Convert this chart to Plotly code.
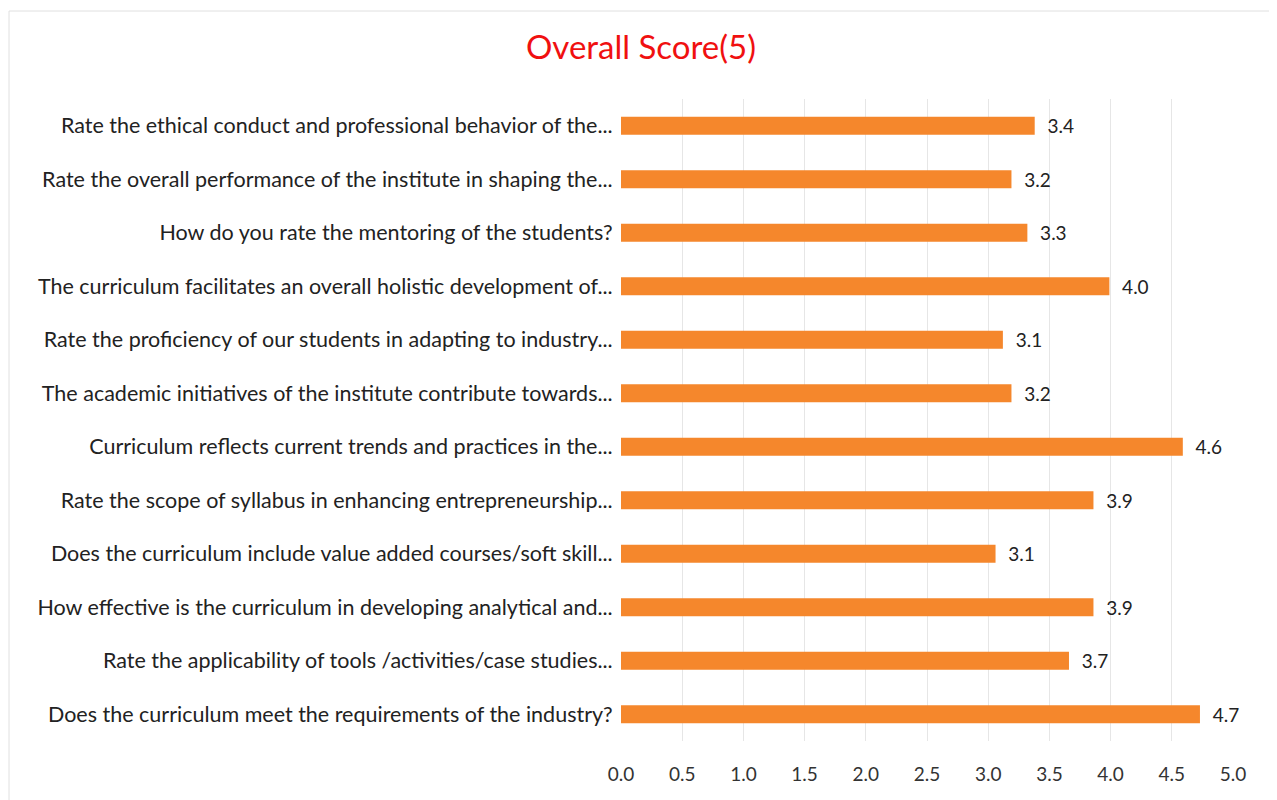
import plotly.graph_objects as go

categories = [
    "Rate the ethical conduct and professional behavior of the...",
    "Rate the overall performance of the institute in shaping the...",
    "How do you rate the mentoring of the students?",
    "The curriculum facilitates an overall holistic development of...",
    "Rate the proficiency of our students in adapting to industry...",
    "The academic initiatives of the institute contribute towards...",
    "Curriculum reflects current trends and practices in the...",
    "Rate the scope of syllabus in enhancing entrepreneurship...",
    "Does the curriculum include value added courses/soft skill...",
    "How effective is the curriculum in developing analytical and...",
    "Rate the applicability of tools /activities/case studies...",
    "Does the curriculum meet the requirements of the industry?",
]
scores = [3.38, 3.19, 3.32, 3.99, 3.12, 3.19, 4.59, 3.86, 3.06, 3.86, 3.66, 4.73]
tick_vals = [0, 0.5, 1, 1.5, 2, 2.5, 3, 3.5, 4, 4.5, 5]
tick_text = ["0.0", "0.5", "1.0", "1.5", "2.0", "2.5", "3.0", "3.5", "4.0", "4.5", "5.0"]

font_family = "Lato, Open Sans, sans-serif"

fig = go.Figure(go.Bar(
    x=scores,
    y=categories,
    orientation="h",
    marker=dict(color="#F5872C", line=dict(width=0)),
    width=0.34,
    text=["\u00a0\u00a0" + f"{v:.1f}" for v in scores],
    texttemplate="%{text}",
    textposition="outside",
    constraintext="none",
    textfont=dict(size=19, color="#222222", family=font_family),
    cliponaxis=False,
))

fig.update_layout(
    width=1277,
    height=800,
    paper_bgcolor="white",
    plot_bgcolor="white",
    margin=dict(l=613, r=52, t=91, b=67, autoexpand=False),
    title=dict(
        text="Overall Score(5)",
        x=(641 - 8) / 1277,
        xanchor="center",
        y=1 - 39 / 800,
        yanchor="middle",
        font=dict(size=33, color="#F01010", family=font_family),
    ),
    showlegend=False,
)

fig.update_xaxes(
    range=[0, 5],
    tickvals=tick_vals,
    ticktext=tick_text,
    showgrid=True,
    gridcolor="#E6E6E6",
    gridwidth=1,
    zeroline=False,
    showline=False,
    ticks="outside",
    ticklen=16,
    tickcolor="rgba(0,0,0,0)",
    tickfont=dict(size=19, color="#333333", family=font_family),
)

fig.update_yaxes(
    categoryorder="array",
    categoryarray=categories[::-1],
    showgrid=False,
    zeroline=False,
    showline=False,
    ticks="outside",
    ticklen=3,
    tickcolor="rgba(0,0,0,0)",
    tickfont=dict(size=21.5, color="#222222", family=font_family),
)

fig.add_shape(type="rect", xref="paper", yref="paper",
              x0=-612/612, x1=1 + 42/612, y0=-60/642, y1=1 + 88/642,
              line=dict(color="#E0E0E0", width=1), fillcolor="rgba(0,0,0,0)", layer="below")

fig.write_html("out.html")
